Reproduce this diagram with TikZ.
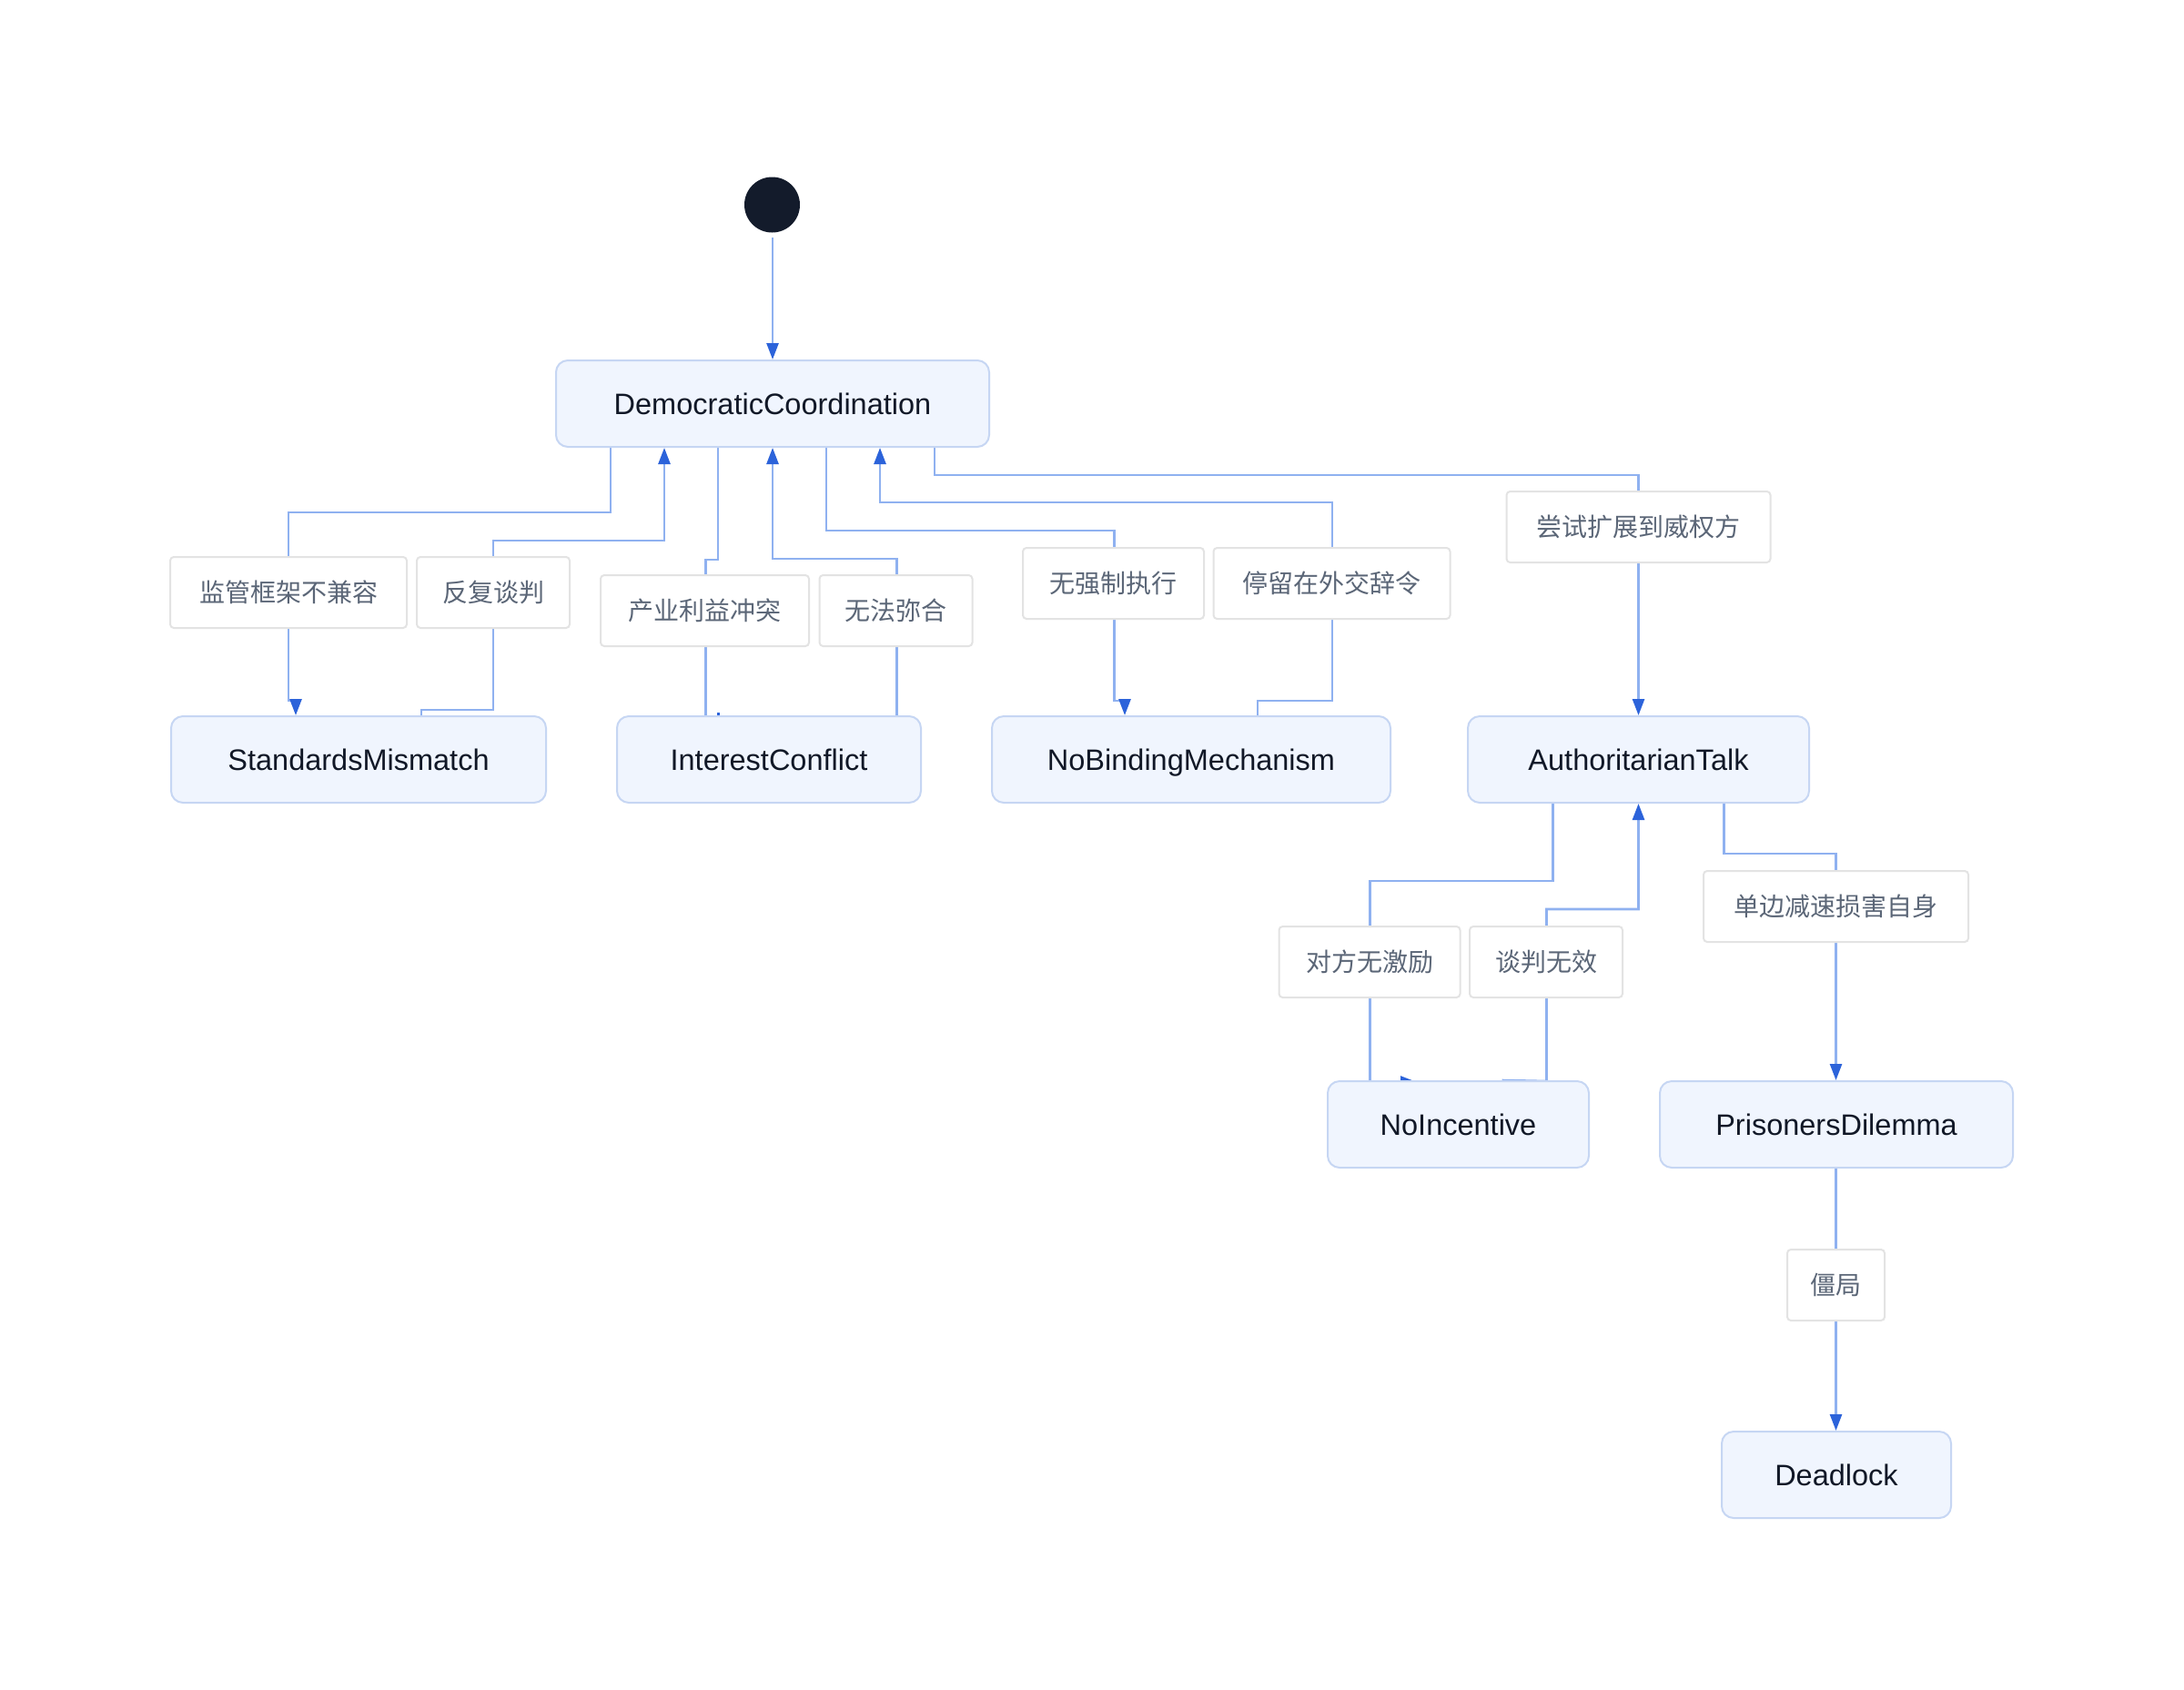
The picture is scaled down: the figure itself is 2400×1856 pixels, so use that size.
\documentclass[tikz,border=0pt]{standalone}
\usepackage{fontspec}
\setmainfont{Liberation Sans}
\newfontfamily\cjk{Noto Sans CJK SC}
\usetikzlibrary{arrows.meta,calc,backgrounds}
\definecolor{boxfill}{HTML}{F0F5FE}
\definecolor{boxborder}{HTML}{C6D6F3}
\definecolor{nodetext}{HTML}{111827}
\definecolor{lblborder}{HTML}{E3E3E3}
\definecolor{lbltext}{HTML}{5B6677}
\definecolor{edgecol}{HTML}{8FB1F0}
\definecolor{arrowcol}{HTML}{2C63DA}
\definecolor{startcol}{HTML}{131B2B}
\tikzset{
  state/.style={draw=boxborder, line width=2pt, fill=boxfill, rounded corners=13pt,
    minimum height=95pt, inner sep=0pt, text=nodetext, text height=23.5pt, text depth=0pt,
    font=\fontsize{32.5}{38}\selectfont},
  lbl/.style={draw=lblborder, line width=2pt, fill=white, rounded corners=4pt,
    minimum height=78pt, inner sep=0pt, text=lbltext, font=\cjk\fontsize{28}{34}\selectfont},
  edge/.style={draw=edgecol, line width=2.6pt},
  arr/.style={edge, -{Triangle[length=18pt,width=13pt,color=arrowcol]}},
}
\begin{document}
\begin{tikzpicture}[x=1pt,y=-1pt]
\useasboundingbox (0,0) rectangle (2400,1856);

% start
\node[circle, fill=startcol, minimum size=61pt, inner sep=0pt] (S) at (848.5,225) {};

% states
\node[state, minimum width=476pt] (DC) at (849,443.5) {DemocraticCoordination};
\node[state, minimum width=412pt] (SM) at (394,834.5) {StandardsMismatch};
\node[state, minimum width=334pt] (IC) at (845,834.5) {InterestConflict};
\node[state, minimum width=438pt] (NB) at (1309,834.5) {NoBindingMechanism};
\node[state, minimum width=375pt] (AT) at (1800.5,834.5) {AuthoritarianTalk};
\node[state, minimum width=287pt] (NI) at (1602.5,1235.5) {NoIncentive};
\node[state, minimum width=388pt] (PD) at (2018,1235.5) {PrisonersDilemma};
\node[state, minimum width=252pt] (DL) at (2018,1620.5) {Deadlock};

% labels
\node[lbl, minimum width=260pt] (L1) at (317,651) {监管框架不兼容};
\node[lbl, minimum width=168pt] (L2) at (542,651) {反复谈判};
\node[lbl, minimum width=229pt] (L3) at (774.5,671) {产业利益冲突};
\node[lbl, minimum width=168pt] (L4) at (984.5,671) {无法弥合};
\node[lbl, minimum width=199pt] (L5) at (1223.5,641) {无强制执行};
\node[lbl, minimum width=260pt] (L6) at (1463.5,641) {停留在外交辞令};
\node[lbl, minimum width=290pt] (L7) at (1800.5,579) {尝试扩展到威权方};
\node[lbl, minimum width=199pt] (L8) at (1505,1057) {对方无激励};
\node[lbl, minimum width=168pt] (L9) at (1699,1057) {谈判无效};
\node[lbl, minimum width=291pt] (L10) at (2017.5,996) {单边减速损害自身};
\node[lbl, minimum width=107pt] (L11) at (2017.5,1412) {僵局};

\begin{pgfonlayer}{background}
\fill[white] (0,0) rectangle (2400,1856);
% start -> DC
\draw[arr] (849,261) -- (DC.north);
% DC -> SM
\draw[arr] ($(DC.south)+(-178,0)$) |- (317,563) -- (L1.north) -- (L1.south)
  -- (317,770) -- (325,770) -- ($(SM.north)+(-69,0)$);
% SM -> DC
\draw[arr] ($(SM.north)+(69,0)$) -- (463,780) -- (542,780) -- (L2.south) -- (L2.north)
  -- (542,594) -- (730,594) -- ($(DC.south)+(-119,0)$);
% DC -> IC
\draw[edge] ($(DC.south)+(-60,0)$) -- (789,615) -- (775.5,615) -- (L3.north -| 775.5,0)
  -- (775.5,671) -- ($(IC.north)+(-69.5,0)$);
\fill[arrowcol] (787.5,786) -- (790.5,786) -- (790.5,782.5) -- (787.5,782.5) -- cycle;
% IC -> DC
\draw[arr] ($(IC.north)+(140.5,0)$) -- (L4.south -| 985.5,0) -- (985.5,614) -- (849,614) -- (DC.south);
% DC -> NB
\draw[arr] ($(DC.south)+(59,0)$) -- (908,583) -- (1224.5,583) -- (L5.north -| 1224.5,0)
  -- (1224.5,770) -- (1236,770) -- ($(NB.north)+(-73,0)$);
% NB -> DC
\draw[arr] ($(NB.north)+(73,0)$) -- (1382,770) -- (1464,770) -- (L6.south -| 1464,0)
  -- (1464,552) -- (967,552) -- ($(DC.south)+(118,0)$);
% DC -> AT
\draw[arr] ($(DC.south)+(178,0)$) -- (1027,522) -- (1800.5,522) -- (L7.north) -- (L7.south) -- (AT.north);
% AT -> NI
\draw[arr] ($(AT.south)+(-94,0)$) -- (1706.5,968) -- (1505.5,968) -- (L8.north -| 1505.5,0)
  -- (1505.5,1189) -- (1557,1189);
% NI -> AT
\draw[arr] ($(NI.north)+(48,0)$) -- (1699.5,1188) -- (L9.south -| 1699.5,0)
  -- (1699.5,999) -- (1800.5,999) -- (AT.south);
% AT -> PD
\draw[arr] ($(AT.south)+(94,0)$) -- (1894.5,938) -- (2017.5,938) -- (L10.north) -- (L10.south) -- (PD.north -| L10.south);
% PD -> DL
\draw[arr] (PD.south -| L11.north) -- (L11.north) -- (L11.south) -- (DL.north -| L11.south);
\end{pgfonlayer}
\end{tikzpicture}
\end{document}
